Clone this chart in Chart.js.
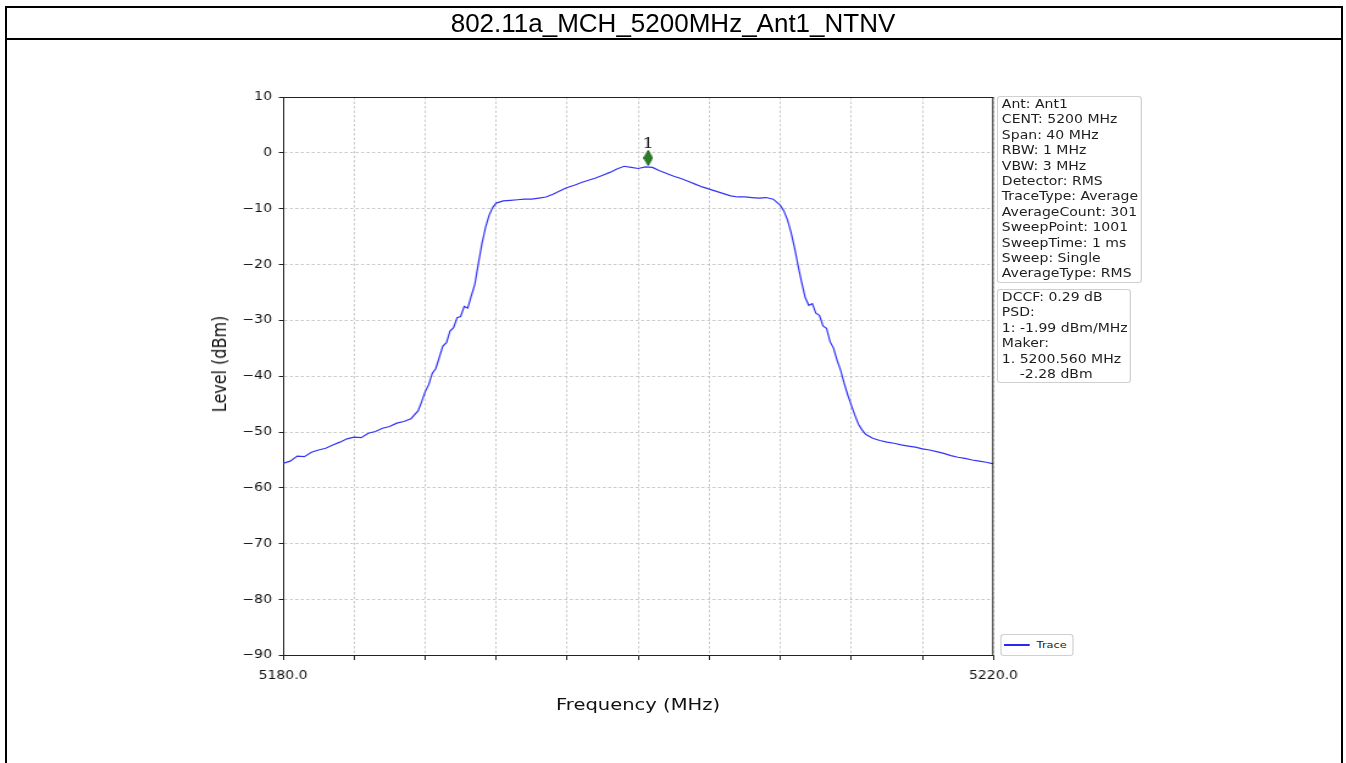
<!DOCTYPE html>
<html><head><meta charset="utf-8">
<script src="https://cdn.jsdelivr.net/npm/chart.js@4.4.1/dist/chart.umd.min.js"></script>
<style>
html,body{margin:0;padding:0;background:#fff;}
body{width:1346px;height:763px;overflow:hidden;position:relative;font-family:"DejaVu Sans",sans-serif;}
#frame{position:absolute;left:5px;top:6px;width:1338px;height:800px;border:2px solid #000;box-sizing:border-box;z-index:3;pointer-events:none;}
#sep{position:absolute;left:5px;top:38px;width:1338px;height:2px;background:#000;z-index:3;}
#title{position:absolute;left:0;top:8px;width:1346px;height:30px;line-height:30px;text-align:center;font-family:"Liberation Sans",Arial,sans-serif;font-size:26px;color:#000;z-index:3;}
#stage{position:absolute;left:0;top:0;width:1104px;height:763px;transform:scaleX(1.22);transform-origin:0 0;}
#c{position:absolute;left:0;top:0;}
.info{position:absolute;border:1px solid #d0d0d0;border-radius:3px;background:rgba(255,255,255,0.85);font-family:"DejaVu Sans",sans-serif;font-size:11.5px;line-height:15.4px;color:#1e1e1e;padding:0 2px 0 3px;white-space:pre;}
#ylab{position:absolute;left:180.3px;top:364px;transform:translate(-50%,-50%) rotate(-90deg);font-size:16px;color:#111;white-space:nowrap;}
#xlab{position:absolute;left:523px;top:704px;transform:translate(-50%,-50%);font-size:16px;color:#111;white-space:nowrap;}
#leg{position:absolute;left:819.7px;top:634px;width:58px;height:20px;border:1px solid #d0d0d0;border-radius:3px;background:#fff;}
#legline{position:absolute;left:2.4px;top:9.3px;width:20.5px;height:1.6px;background:rgb(40,40,245);}
#legtxt{position:absolute;left:29px;top:4px;font-size:9.3px;line-height:11px;color:#1e1e1e;}
</style>
</head>
<body>
<div id="frame"></div>
<div id="sep"></div>
<div id="title">802.11a_MCH_5200MHz_Ant1_NTNV</div>
<div id="stage">
  <canvas id="c" width="1104" height="763"></canvas>
  <div id="ylab">Level (dBm)</div>
  <div id="xlab">Frequency (MHz)</div>
  <div class="info" id="info1" style="left:817.2px;top:96px;"></div>
  <div class="info" id="info2" style="left:817.2px;top:289px;"></div>
  <div id="leg"><div id="legline"></div><div id="legtxt">Trace</div></div>
</div>
<script>
// ---- data ----
const freqMHz = [
  5180.0, 5180.4, 5180.8, 5181.2, 5181.6, 5182.0, 5182.4, 5182.8, 5183.2, 5183.6,
  5184.0, 5184.4, 5184.8, 5185.2, 5185.6, 5186.0, 5186.4, 5186.8, 5187.2,
  5187.6, 5187.8, 5188.0, 5188.2, 5188.4, 5188.6, 5188.8, 5189.0, 5189.2, 5189.4,
  5189.6, 5189.8, 5190.0, 5190.2, 5190.4, 5190.6, 5190.8, 5191.0, 5191.2, 5191.4,
  5191.6, 5191.8, 5192.0,
  5192.4, 5192.8, 5193.2, 5193.6, 5194.0, 5194.4, 5194.8, 5195.2, 5195.6,
  5196.0, 5196.4, 5196.8, 5197.2, 5197.6, 5198.0, 5198.4, 5198.8, 5199.2, 5199.6,
  5200.0, 5200.4, 5200.8, 5201.2, 5201.6, 5202.0, 5202.4, 5202.8, 5203.2, 5203.6,
  5204.0, 5204.4, 5204.8, 5205.2, 5205.6, 5206.0, 5206.4, 5206.8, 5207.2, 5207.6,
  5208.0, 5208.2, 5208.4, 5208.6, 5208.8, 5209.0, 5209.2, 5209.4, 5209.6, 5209.8,
  5210.0, 5210.2, 5210.4, 5210.6, 5210.8, 5211.0, 5211.2, 5211.4, 5211.6, 5211.8,
  5212.0, 5212.2, 5212.4, 5212.6, 5212.8,
  5213.2, 5213.6, 5214.0, 5214.4, 5214.8, 5215.2, 5215.6,
  5216.0, 5216.4, 5216.8, 5217.2, 5217.6, 5218.0, 5218.4, 5218.8, 5219.2, 5219.6,
  5220.0
];
const levelDbm = [
  -55.6, -55.2, -54.3, -54.4, -53.6, -53.2, -52.9, -52.3, -51.8, -51.2,
  -50.9, -51.0, -50.2, -49.9, -49.3, -49.0, -48.4, -48.1, -47.6,
  -46.2, -44.6, -42.8, -41.5, -39.5, -38.6, -36.6, -34.6, -34.0, -31.9,
  -31.3, -29.5, -29.3, -27.5, -27.8, -25.6, -23.5, -19.8, -16.2, -13.4,
  -11.2, -9.8, -9.0,
  -8.6, -8.5, -8.4, -8.3, -8.3, -8.1, -7.9, -7.4, -6.8,
  -6.2, -5.8, -5.3, -4.9, -4.5, -4.0, -3.5, -2.9, -2.4, -2.6,
  -2.8, -2.5, -2.6, -3.2, -3.7, -4.2, -4.6, -5.1, -5.6, -6.1,
  -6.5, -6.9, -7.3, -7.7, -7.9, -7.9, -8.0, -8.1, -8.0, -8.3,
  -9.4, -10.4, -12.0, -14.2, -17.0, -20.2, -23.2, -25.9, -27.3, -27.0,
  -28.7, -29.1, -31.0, -31.4, -33.8, -35.0, -37.2, -39.0, -41.3, -43.4,
  -45.2, -47.0, -48.6, -49.6, -50.4,
  -51.1, -51.5, -51.8, -52.0, -52.3, -52.5, -52.7,
  -53.0, -53.2, -53.5, -53.8, -54.2, -54.5, -54.7, -55.0, -55.2, -55.4,
  -55.7
];
const markerFreq = [5200.56];
const markerLevel = [-0.9];
const markerLabels = ['1'];
const xTickValues = [5180, 5184, 5188, 5192, 5196, 5200, 5204, 5208, 5212, 5216, 5220];
const xTickLabels = ['5180.0', '', '', '', '', '', '', '', '', '', '5220.0'];
const yTickValues = [10, 0, -10, -20, -30, -40, -50, -60, -70, -80, -90];
const yTickLabels = ['10', '0', '\u221210', '\u221220', '\u221230', '\u221240', '\u221250', '\u221260', '\u221270', '\u221280', '\u221290'];
const settingsLines = ['Ant: Ant1', 'CENT: 5200 MHz', 'Span: 40 MHz', 'RBW: 1 MHz', 'VBW: 3 MHz', 'Detector: RMS',
  'TraceType: Average', 'AverageCount: 301', 'SweepPoint: 1001', 'SweepTime: 1 ms', 'Sweep: Single', 'AverageType: RMS'];
const resultLines = ['DCCF: 0.29 dB', 'PSD:', '1: -1.99 dBm/MHz', 'Maker:', '1. 5200.560 MHz', '    -2.28 dBm'];

document.getElementById('info1').textContent = settingsLines.join('\n');
document.getElementById('info2').textContent = resultLines.join('\n');

// thin diamond marker image
const dm = document.createElement('canvas');
dm.width = 8; dm.height = 16;
const g = dm.getContext('2d');
g.beginPath(); g.moveTo(4, 0.5); g.lineTo(7.5, 8); g.lineTo(4, 15.5); g.lineTo(0.5, 8); g.closePath();
g.fillStyle = '#268026'; g.fill(); g.strokeStyle = '#195a19'; g.lineWidth = 1; g.stroke();

const spines = {
  id: 'spines',
  afterDatasetsDraw(chart) {
    const a = chart.chartArea, ctx = chart.ctx;
    ctx.save();
    ctx.strokeStyle = '#222'; ctx.lineWidth = 1;
    ctx.beginPath();
    ctx.moveTo(a.left, a.top + 0.5); ctx.lineTo(a.right, a.top + 0.5);
    ctx.moveTo(a.right - 0.5, a.top); ctx.lineTo(a.right - 0.5, a.bottom);
    ctx.stroke();
    // marker label
    const meta = chart.getDatasetMeta(1);
    ctx.fillStyle = '#222';
    ctx.font = '15px "DejaVu Serif", serif';
    ctx.textAlign = 'center'; ctx.textBaseline = 'bottom';
    meta.data.forEach((el, i) => { ctx.fillText(markerLabels[i], el.x, el.y - 6); });
    ctx.restore();
  }
};

new Chart(document.getElementById('c'), {
  type: 'line',
  data: {
    datasets: [{
      label: 'Trace',
      data: freqMHz.map((f, i) => ({ x: f, y: levelDbm[i] })),
      borderColor: 'rgb(50,50,248)',
      borderWidth: 1.2,
      pointRadius: 0,
      tension: 0,
      fill: false
    }, {
      label: 'Marker',
      data: markerFreq.map((f, i) => ({ x: f, y: markerLevel[i] })),
      showLine: false,
      pointStyle: dm,
      pointRadius: 5,
      borderColor: '#195a19',
      backgroundColor: '#268026'
    }]
  },
  options: {
    responsive: false,
    animation: false,
    devicePixelRatio: 1,
    layout: { padding: { left: 172, right: 289.7, top: 97, bottom: 67.5 } },
    plugins: { legend: { display: false }, tooltip: { enabled: false }, title: { display: false } },
    scales: {
      x: {
        type: 'linear', min: 5180, max: 5220,
        afterBuildTicks: s => { s.ticks = xTickValues.map(v => ({ value: v })); },
        afterFit: s => { s.height = 40; },
        ticks: {
          autoSkip: false, maxRotation: 0, minRotation: 0,
          callback: v => xTickLabels[xTickValues.indexOf(v)],
          font: { family: '"DejaVu Sans"', size: 11.5 }, color: '#111', padding: 9
        },
        grid: { color: '#bdbdbd', lineWidth: 0.8, tickColor: '#222', tickLength: 4.5, tickWidth: 1 },
        border: { display: true, color: '#222', width: 1, dash: [2.5, 2] }
      },
      y: {
        min: -90, max: 10,
        afterBuildTicks: s => { s.ticks = yTickValues.map(v => ({ value: v })); },
        afterFit: s => { s.width = 60; },
        ticks: {
          callback: v => yTickLabels[yTickValues.indexOf(v)],
          font: { family: '"DejaVu Sans"', size: 11.5 }, color: '#111', padding: 5.5
        },
        grid: { color: '#bdbdbd', lineWidth: 0.8, tickColor: '#222', tickLength: 3.5, tickWidth: 1 },
        border: { display: true, color: '#222', width: 1, dash: [2.5, 2] }
      }
    }
  },
  plugins: [spines]
});
</script>
</body></html>
